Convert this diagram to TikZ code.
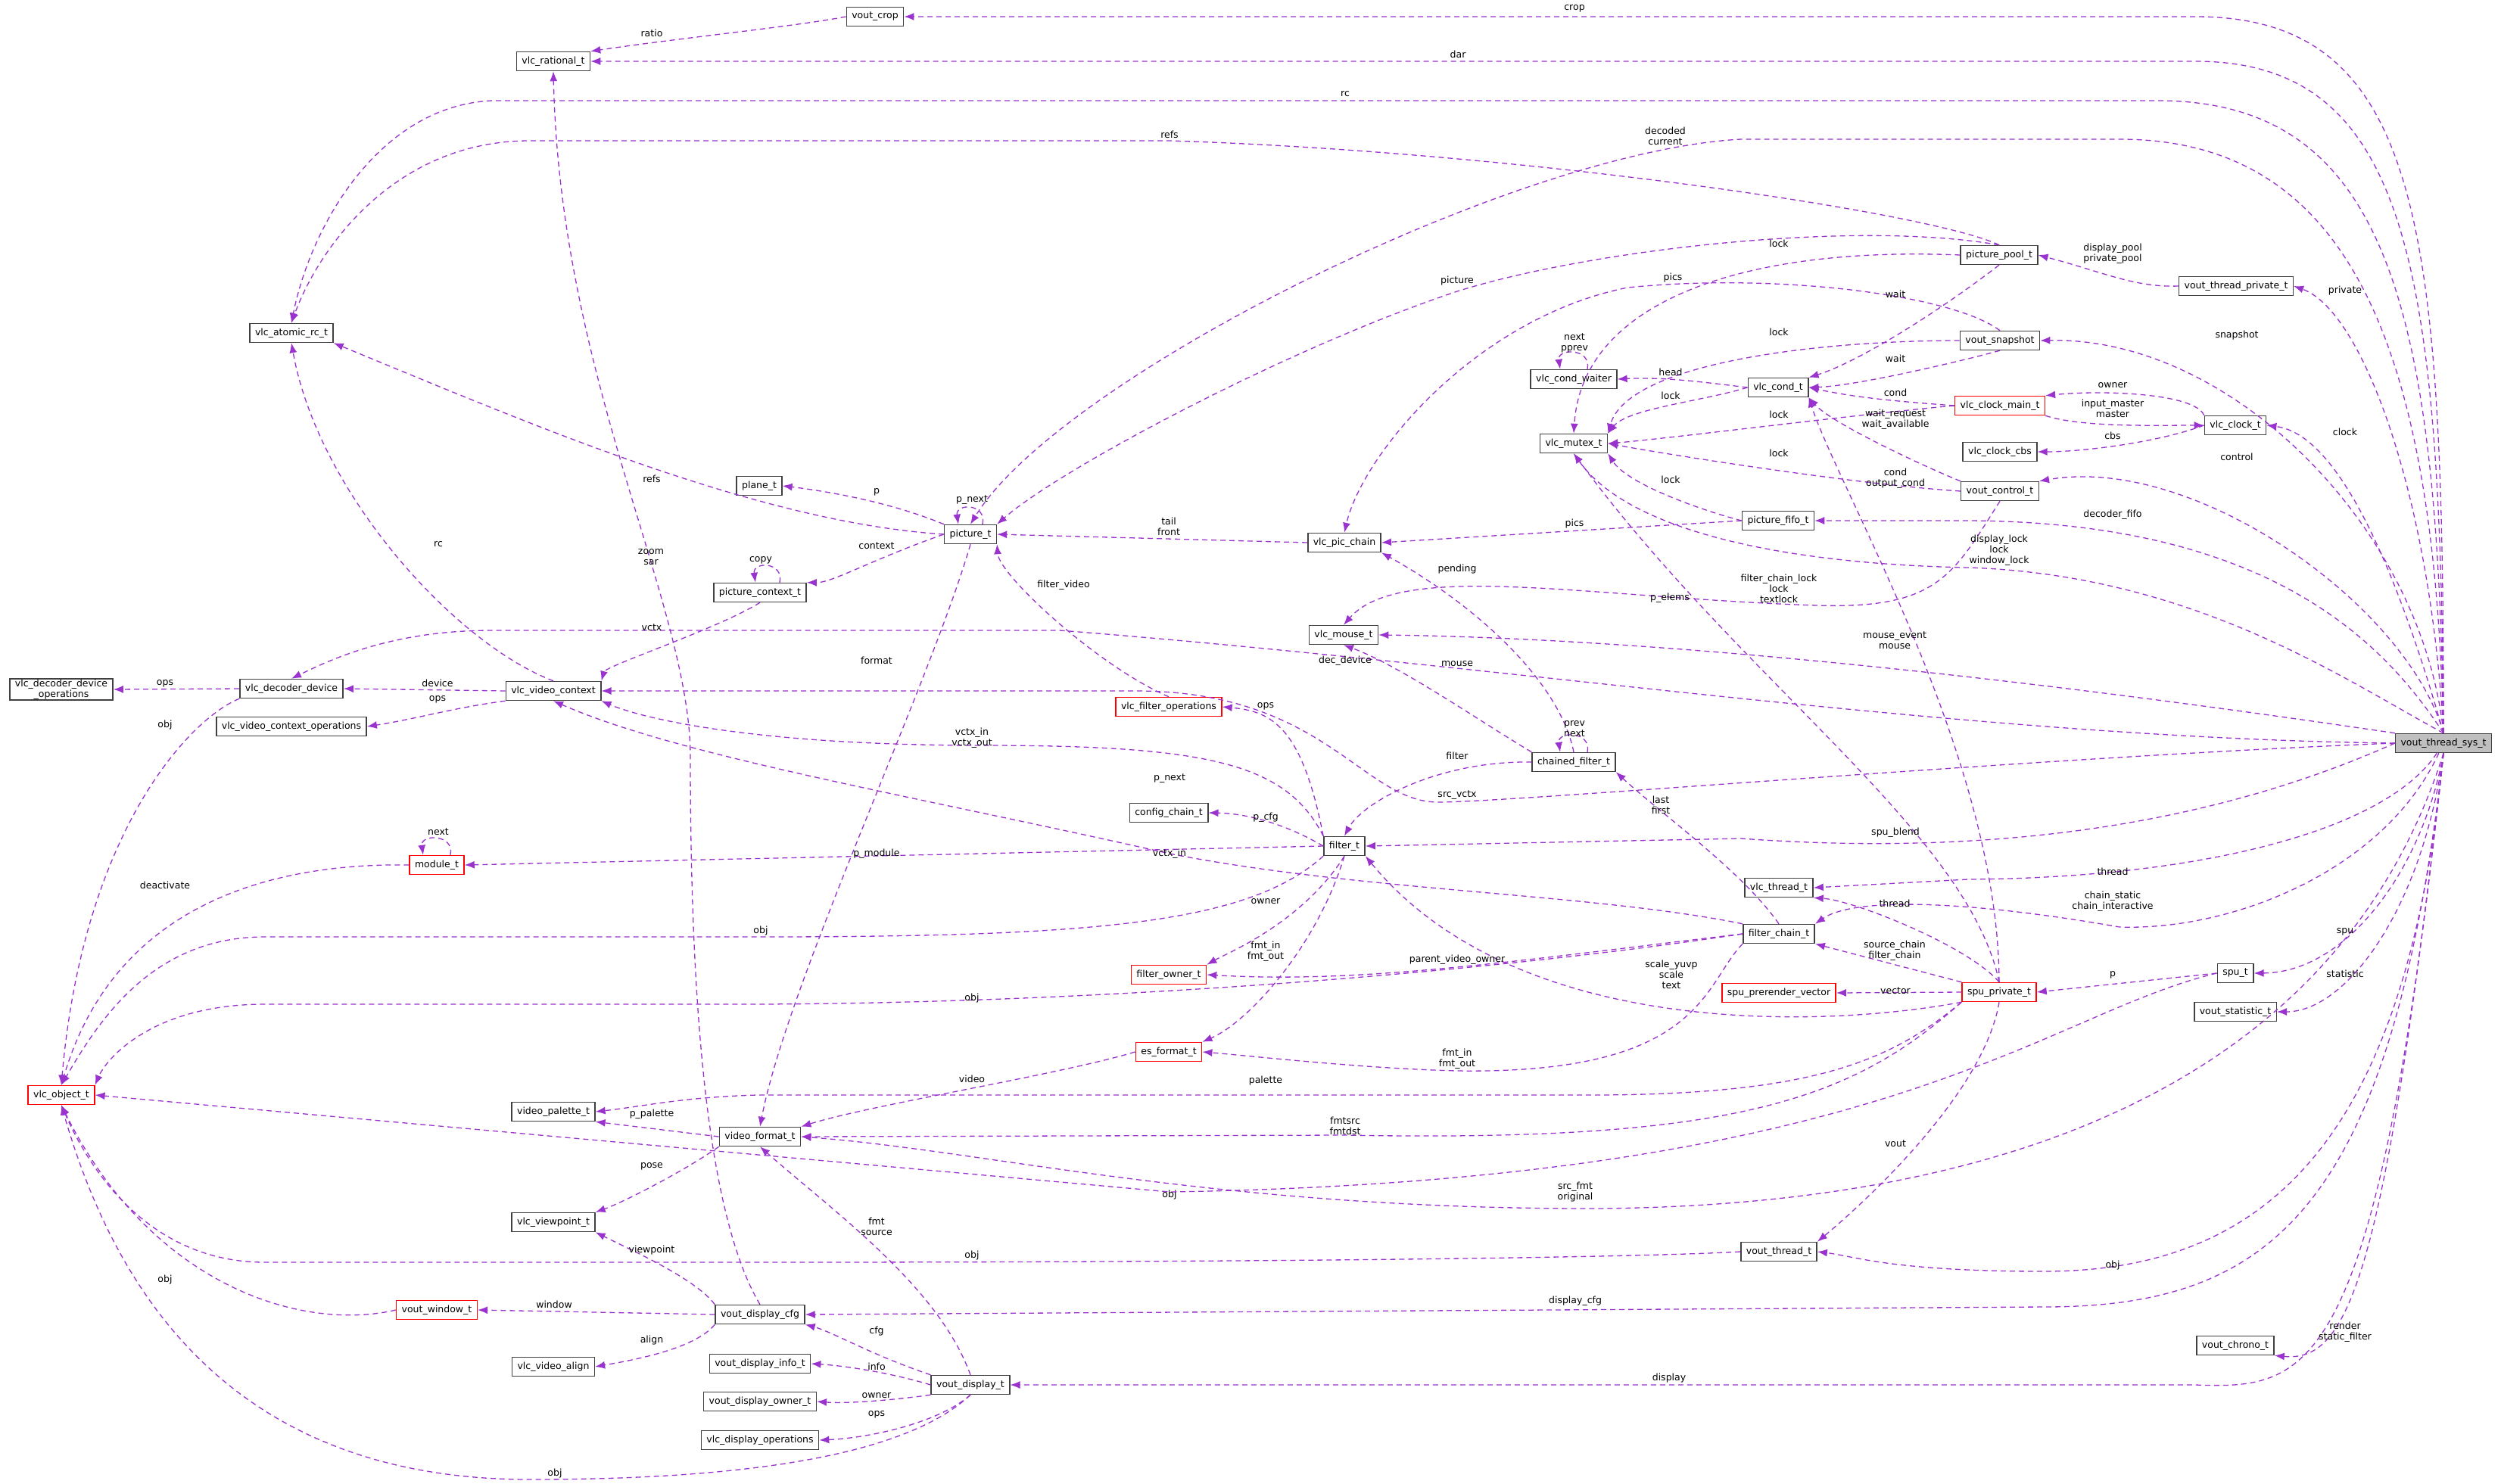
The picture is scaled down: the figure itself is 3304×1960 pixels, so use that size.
\documentclass[tikz,border=0pt]{standalone}
\usepackage{fontspec}
\setmainfont{DejaVu Sans}
\usetikzlibrary{arrows.meta}
\definecolor{edg}{RGB}{154,50,205}
\definecolor{sysfill}{RGB}{191,191,191}
\tikzset{
 box/.style={draw=black!75,line width=1.5pt,fill=white,font=\fontsize{12.5}{14}\selectfont,minimum height=25pt,inner xsep=7pt,inner ysep=2pt,align=center},
 rbox/.style={box,draw=red},
 e/.style={draw=edg,line width=1.3pt,dash pattern=on 7pt off 5pt,-{Latex[length=13pt,width=10pt]}},
 lbl/.style={font=\fontsize{12.5}{14}\selectfont,align=center,inner sep=0pt}
}
\begin{document}
\begin{tikzpicture}[x=1pt,y=-1pt]
\useasboundingbox (0,0) rectangle (3304,1960);
% nodes
\node[box] (crop) at (1156,22) {vout\_crop};
\node[box] (rat) at (731,81) {vlc\_rational\_t};
\node[box] (atom) at (385,440) {vlc\_atomic\_rc\_t};
\node[box] (plane) at (1003,642) {plane\_t};
\node[box] (pctx) at (1004,783) {picture\_context\_t};
\node[box,inner ysep=1pt] (decops) at (81,911) {vlc\_decoder\_device\\\_operations};
\node[box] (dec) at (385,910) {vlc\_decoder\_device};
\node[box] (vctx) at (731,913) {vlc\_video\_context};
\node[box] (vops) at (385,960) {vlc\_video\_context\_operations};
\node[box] (pic) at (1282,706) {picture\_t};
\node[box] (pchain) at (1776,717) {vlc\_pic\_chain};
\node[box] (mouse) at (1775,839) {vlc\_mouse\_t};
\node[rbox] (fops) at (1544,934) {vlc\_filter\_operations};
\node[box] (cw) at (2079,501) {vlc\_cond\_waiter};
\node[box] (mutex) at (2079,586) {vlc\_mutex\_t};
\node[box] (pool) at (2641,337) {picture\_pool\_t};
\node[box] (vtp) at (2954,378) {vout\_thread\_private\_t};
\node[box] (snap) at (2642,450) {vout\_snapshot};
\node[box] (cond) at (2349,512) {vlc\_cond\_t};
\node[rbox] (cmain) at (2642,536) {vlc\_clock\_main\_t};
\node[box] (clk) at (2953,562) {vlc\_clock\_t};
\node[box] (cbs) at (2642,597) {vlc\_clock\_cbs};
\node[box] (ctl) at (2642,649) {vout\_control\_t};
\node[box] (fifo) at (2349,688) {picture\_fifo\_t};
\node[box,fill=sysfill] (S) at (3228,982) {vout\_thread\_sys\_t};
\node[rbox] (mod) at (577,1143) {module\_t};
\node[rbox] (obj) at (81,1447) {vlc\_object\_t};
\node[box] (vpal) at (731,1469) {video\_palette\_t};
\node[box] (vfmt) at (1004,1502) {video\_format\_t};
\node[box] (vvp) at (731,1615) {vlc\_viewpoint\_t};
\node[rbox] (vwin) at (577,1731) {vout\_window\_t};
\node[box] (dcfg) at (1004,1737) {vout\_display\_cfg};
\node[box] (valign) at (731,1806) {vlc\_video\_align};
\node[box] (vinfo) at (1004,1802) {vout\_display\_info\_t};
\node[box] (vown) at (1004,1852) {vout\_display\_owner\_t};
\node[box] (dops) at (1004,1903) {vlc\_display\_operations};
\node[box] (chf) at (2079,1007) {chained\_filter\_t};
\node[box] (ccfg) at (1544,1074) {config\_chain\_t};
\node[box] (filt) at (1776,1118) {filter\_t};
\node[rbox] (fown) at (1544,1288) {filter\_owner\_t};
\node[rbox] (esf) at (1544,1390) {es\_format\_t};
\node[box] (vdisp) at (1282,1830) {vout\_display\_t};
\node[box] (vthr) at (2350,1173) {vlc\_thread\_t};
\node[box] (fchain) at (2350,1234) {filter\_chain\_t};
\node[rbox] (spv) at (2350,1312) {spu\_prerender\_vector};
\node[rbox] (spp) at (2641,1311) {spu\_private\_t};
\node[box] (spu) at (2953,1286) {spu\_t};
\node[box] (stat) at (2953,1337) {vout\_statistic\_t};
\node[box] (vth) at (2350,1654) {vout\_thread\_t};
\node[box] (chrono) at (2953,1778) {vout\_chrono\_t};
% edges from vout_thread_sys_t
\draw[e] (S.north) .. controls (3228,300) and (3200,22) .. (2900,22) -- (crop);
\draw[e] (S.north) .. controls (3224,350) and (3180,81) .. (2900,81) -- (rat);
\draw[e] (S.north) .. controls (3220,400) and (3150,133) .. (2850,133) -- (650,133) .. controls (500,140) and (410,300) .. (atom.north);
\draw[e] (S.north) .. controls (3216,450) and (3100,184) .. (2800,184) -- (2300,184) .. controls (2000,200) and (1400,500) .. (pic.north);
\draw[e] (S.north) .. controls (3210,650) and (3120,410) .. (vtp.east);
\draw[e] (S.north) .. controls (3200,700) and (2950,445) .. (snap.east);
\draw[e] (S.north) .. controls (3180,800) and (3100,575) .. (clk.east);
\draw[e] (S.north) .. controls (3180,800) and (2900,600) .. (ctl.north east);
\draw[e] (S.north) .. controls (3150,850) and (3000,690) .. (2600,688) -- (fifo.east);
\draw[e] (S.north) .. controls (3100,900) and (2900,760) .. (2600,750) .. controls (2350,745) and (2150,700) .. (mutex.south);
\draw[e] (S.north west) .. controls (2900,930) and (2300,845) .. (mouse.east);
\draw[e] (S.west) .. controls (2600,975) and (2000,880) .. (1400,833) -- (650,833) .. controls (520,833) and (440,870) .. (dec.north);
\draw[e] (S.west) .. controls (2700,1000) and (2000,1060) .. (1900,1060) .. controls (1800,1060) and (1750,913) .. (1500,913) -- (vctx.east);
\draw[e] (S.west) .. controls (2900,1100) and (2600,1130) .. (2300,1108) -- (filt.east);
\draw[e] (S) .. controls (3150,1100) and (2900,1160) .. (2600,1162) -- (vthr.east);
\draw[e] (S) .. controls (3150,1150) and (2950,1230) .. (2800,1225) .. controls (2600,1190) and (2450,1185) .. (fchain.north east);
\draw[e] (S.south) .. controls (3200,1150) and (3100,1285) .. (spu.east);
\draw[e] (S.south) .. controls (3200,1200) and (3100,1337) .. (stat.east);
\draw[e] (S.south) .. controls (3100,1400) and (2700,1595) .. (2100,1597) .. controls (1600,1597) and (1300,1520) .. (vfmt.east);
\draw[e] (S.south) .. controls (3180,1500) and (3000,1680) .. (2700,1680) .. controls (2500,1680) and (2450,1660) .. (vth.east);
\draw[e] (S.south) .. controls (3160,1600) and (3000,1727) .. (2700,1727) -- (dcfg.east);
\draw[e] (S.south) .. controls (3150,1700) and (3100,1800) .. (chrono.south east);
\draw[e] (S.south) .. controls (3140,1830) and (3050,1835) .. (2900,1830) -- (vdisp.east);
% other edges
\draw[e] (vtp.west) .. controls (2820,380) and (2780,360) .. (pool.east);
\draw[e] (crop.west) .. controls (1050,35) and (900,50) .. (rat.north east);
\draw[e] (pool.north) .. controls (2550,280) and (2000,200) .. (1545,186) -- (700,186) .. controls (520,186) and (420,330) .. (atom.north);
\draw[e] (pool.south) .. controls (2550,420) and (2450,480) .. (cond.north east);
\draw[e] (pool.west) .. controls (2300,325) and (2090,400) .. (mutex.north);
\draw[e] (pool.north) .. controls (2450,290) and (2100,330) .. (1925,385) .. controls (1700,460) and (1400,620) .. (pic.north east);
\draw[e] (snap.north) .. controls (2580,390) and (2350,360) .. (2150,380) .. controls (1950,420) and (1800,600) .. (pchain.north);
\draw[e] (snap.west) .. controls (2400,450) and (2150,480) .. (mutex.north east);
\draw[e] (snap.south) .. controls (2580,480) and (2450,510) .. (cond.east);
\draw[e] ([xshift=18pt]cw.north) .. controls +(6,-28) and +(-4,-28) .. ([xshift=-18pt]cw.north);
\draw[e] (cond.west) .. controls (2250,505) and (2200,498) .. (cw.east);
\draw[e] (cond.west) .. controls (2250,530) and (2150,540) .. (mutex.north east);
\draw[e] (cmain.west) .. controls (2500,530) and (2450,525) .. (cond.east);
\draw[e] (cmain.west) .. controls (2450,548) and (2200,580) .. (mutex.east);
\draw[e] (cmain.south east) .. controls (2750,565) and (2850,562) .. (clk.west);
\draw[e] (clk.north west) .. controls (2900,520) and (2780,515) .. (cmain.north east);
\draw[e] (clk.west) .. controls (2850,585) and (2750,597) .. (cbs.east);
\draw[e] (ctl.north west) .. controls (2550,620) and (2420,560) .. (cond.south east);
\draw[e] (ctl.west) .. controls (2450,640) and (2200,600) .. (mutex.east);
\draw[e] (fifo.west) .. controls (2250,675) and (2150,640) .. (mutex.south east);
\draw[e] (fifo.west) -- (pchain.east);
\draw[e] (ctl.south) .. controls (2580,760) and (2560,805) .. (2400,800) .. controls (2100,790) and (1850,740) .. (mouse.north);
\draw[e] (pchain.west) -- (pic.east);
\draw[e] ([xshift=16pt]pic.north) .. controls +(6,-28) and +(-4,-28) .. ([xshift=-16pt]pic.north);
\draw[e] (pic.north west) .. controls (1180,665) and (1100,650) .. (plane.east);
\draw[e] (pic.west) .. controls (1150,740) and (1100,770) .. (pctx.north east);
\draw[e] (pic.west) .. controls (1000,690) and (700,560) .. (atom.south east);
\draw[e] (pic.south) .. controls (1230,900) and (1040,1300) .. (vfmt.north);
\draw[e] ([xshift=26pt]pctx.north) .. controls +(6,-28) and +(-4,-28) .. ([xshift=-6pt]pctx.north);
\draw[e] (pctx.south) .. controls (950,830) and (800,880) .. (vctx.north east);
\draw[e] (vctx.north) .. controls (600,850) and (420,650) .. (atom.south);
\draw[e] (vctx.west) -- (dec.east);
\draw[e] (vctx.south west) .. controls (600,935) and (550,950) .. (vops.east);
\draw[e] (dec.west) -- (decops.east);
\draw[e] (dec.south west) .. controls (250,950) and (110,1100) .. (obj.north);
\draw[e] (fops.north) .. controls (1450,880) and (1320,760) .. (pic.south east);
\draw[e] (filt.north west) .. controls (1720,960) and (1680,940) .. (fops.east);
\draw[e] (filt.west) .. controls (1700,1090) and (1650,1075) .. (ccfg.east);
\draw[e] (filt.north west) .. controls (1700,1010) and (1600,985) .. (1300,985) .. controls (1000,985) and (850,950) .. (vctx.south east);
\draw[e] (fchain.north west) .. controls (2100,1180) and (1800,1178) .. (1545,1128) .. controls (1200,1050) and (900,1000) .. (vctx.south);
\draw[e] (filt.west) -- (mod.east);
\draw[e] ([xshift=18pt]mod.north) .. controls +(6,-28) and +(-4,-28) .. ([xshift=-18pt]mod.north);
\draw[e] (mod.west) .. controls (350,1140) and (150,1200) .. (obj.north);
\draw[e] (filt.south west) .. controls (1650,1220) and (1450,1238) .. (1000,1238) -- (350,1238) .. controls (200,1238) and (130,1350) .. (obj.north);
\draw[e] (filt.south) .. controls (1720,1220) and (1620,1260) .. (fown.north east);
\draw[e] (filt.south) .. controls (1740,1250) and (1650,1350) .. (esf.north east);
\draw[e] (chf.west) .. controls (1900,1005) and (1800,1060) .. (filt.north);
\draw[e] (chf.north west) .. controls (1950,950) and (1850,880) .. (mouse.south);
\draw[e] (chf.north) .. controls (2060,900) and (1950,800) .. (pchain.south east);
\draw[e] ([xshift=18pt]chf.north) .. controls +(6,-28) and +(-4,-28) .. ([xshift=-18pt]chf.north);
\draw[e] (fchain.north) .. controls (2300,1150) and (2200,1080) .. (chf.south east);
\draw[e] (fchain.west) .. controls (2000,1270) and (1800,1300) .. (fown.east);
\draw[e] (fchain.west) .. controls (2000,1280) and (1500,1325) .. (1000,1327) -- (350,1327) .. controls (200,1327) and (140,1400) .. (obj.north east);
\draw[e] (fchain.south west) .. controls (2250,1300) and (2250,1420) .. (1925,1415) .. controls (1800,1412) and (1650,1395) .. (esf.east);
\draw[e] (esf.west) .. controls (1400,1420) and (1150,1460) .. (vfmt.north east);
\draw[e] (spp.south west) .. controls (2500,1400) and (2400,1447) .. (2100,1447) -- (1000,1447) .. controls (900,1450) and (850,1462) .. (vpal.east);
\draw[e] (vfmt.west) -- (vpal.south east);
\draw[e] (vfmt.south west) .. controls (900,1550) and (820,1590) .. (vvp.north east);
\draw[e] (spp.south west) .. controls (2450,1450) and (2300,1510) .. (1777,1500) -- (vfmt.east);
\draw[e] (spu.west) .. controls (2700,1340) and (2500,1560) .. (1545,1575) -- (obj.east);
\draw[e] (spp.south) .. controls (2620,1450) and (2450,1600) .. (vth.north east);
\draw[e] (spp.north west) -- (fchain.south east);
\draw[e] (spp.north) .. controls (2600,1250) and (2450,1190) .. (vthr.south east);
\draw[e] (spp.west) -- (spv.east);
\draw[e] (spp.south west) .. controls (2400,1360) and (2000,1370) .. (filt.south east);
\draw[e] (spp.north) .. controls (2600,1100) and (2300,900) .. (mutex.south);
\draw[e] (spp.north) .. controls (2640,1000) and (2430,650) .. (cond.south east);
\draw[e] (spu.west) -- (spp.east);
\draw[e] (vth.west) .. controls (2200,1660) and (1800,1668) .. (1000,1668) -- (350,1668) .. controls (200,1668) and (120,1550) .. (obj.south);
\draw[e] (dcfg.west) -- (vwin.east);
\draw[e] (dcfg.north west) .. controls (920,1690) and (830,1650) .. (vvp.south east);
\draw[e] (dcfg.south west) .. controls (920,1780) and (850,1795) .. (valign.east);
\draw[e] (dcfg.north) .. controls (930,1600) and (912,1300) .. (912,1000) .. controls (912,800) and (740,500) .. (rat.south);
\draw[e] (vwin.west) .. controls (400,1760) and (200,1700) .. (obj.south);
\draw[e] (vdisp.north west) .. controls (1150,1790) and (1100,1760) .. (dcfg.south east);
\draw[e] (vdisp.west) .. controls (1180,1815) and (1120,1805) .. (vinfo.east);
\draw[e] (vdisp.south west) .. controls (1180,1850) and (1120,1855) .. (vown.east);
\draw[e] (vdisp.south) .. controls (1240,1880) and (1150,1900) .. (dops.east);
\draw[e] (vdisp.north) .. controls (1240,1700) and (1100,1600) .. (vfmt.south);
\draw[e] (vdisp.south) .. controls (1200,1920) and (1000,1955) .. (700,1955) .. controls (300,1955) and (150,1700) .. (obj.south);
% labels
\node[lbl] (l1) at (2080,11) {crop};
\node[lbl] (l2) at (1926,72) {dar};
\node[lbl] (l3) at (1777,124) {rc};
\node[lbl] (l4) at (2200,180) {decoded\\current};
\node[lbl] (l5) at (861,44) {ratio};
\node[lbl] (l6) at (1545,178) {refs};
\node[lbl] (l7) at (861,633) {refs};
\node[lbl] (l8) at (579,719) {rc};
\node[lbl] (l9) at (860,736) {zoom\\sar};
\node[lbl] (l10) at (1005,740) {copy};
\node[lbl] (l11) at (861,829) {vctx};
\node[lbl] (l12) at (218,903) {ops};
\node[lbl] (l13) at (578,903) {device};
\node[lbl] (l14) at (578,924) {ops};
\node[lbl] (l15) at (218,958) {obj};
\node[lbl] (l16) at (1925,371) {picture};
\node[lbl] (l17) at (1158,650) {p};
\node[lbl] (l18) at (1284,661) {p\_next};
\node[lbl] (l19) at (1158,721) {context};
\node[lbl] (l20) at (1544,696) {tail\\front};
\node[lbl] (l21) at (2080,692) {pics};
\node[lbl] (l22) at (1925,752) {pending};
\node[lbl] (l23) at (1158,873) {format};
\node[lbl] (l24) at (1405,773) {filter\_video};
\node[lbl] (l25) at (1777,873) {dec\_device};
\node[lbl] (l26) at (1925,877) {mouse};
\node[lbl] (l27) at (1672,933) {ops};
\node[lbl] (l28) at (1284,975) {vctx\_in\\vctx\_out};
\node[lbl] (l29) at (2080,963) {prev\\next};
\node[lbl] (l30) at (2080,453) {next\\pprev};
\node[lbl] (l31) at (2791,335) {display\_pool\\private\_pool};
\node[lbl] (l32) at (3098,384) {private};
\node[lbl] (l33) at (2350,322) {lock};
\node[lbl] (l34) at (2210,367) {pics};
\node[lbl] (l35) at (2504,389) {wait};
\node[lbl] (l36) at (2350,439) {lock};
\node[lbl] (l37) at (2955,443) {snapshot};
\node[lbl] (l38) at (2504,474) {wait};
\node[lbl] (l39) at (2791,509) {owner};
\node[lbl] (l40) at (2504,519) {cond};
\node[lbl] (l41) at (2791,540) {input\_master\\master};
\node[lbl] (l42) at (2350,548) {lock};
\node[lbl] (l43) at (2504,554) {wait\_request\\wait\_available};
\node[lbl] (l44) at (3098,571) {clock};
\node[lbl] (l45) at (2791,576) {cbs};
\node[lbl] (l46) at (2350,599) {lock};
\node[lbl] (l47) at (2955,604) {control};
\node[lbl] (l48) at (2504,632) {cond\\output\_cond};
\node[lbl] (l49) at (2791,680) {decoder\_fifo};
\node[lbl] (l50) at (2641,727) {display\_lock\\lock\\window\_lock};
\node[lbl] (l51) at (2350,778) {filter\_chain\_lock\\lock\\textlock};
\node[lbl] (l52) at (2206,790) {p\_elems};
\node[lbl] (l53) at (2503,846) {mouse\_event\\mouse};
\node[lbl] (l54) at (2207,492) {head};
\node[lbl] (l55) at (2207,523) {lock};
\node[lbl] (l56) at (2207,634) {lock};
\node[lbl] (l57) at (579,1099) {next};
\node[lbl] (l58) at (218,1170) {deactivate};
\node[lbl] (l59) at (1005,1230) {obj};
\node[lbl] (l60) at (861,1472) {p\_palette};
\node[lbl] (l61) at (861,1541) {pose};
\node[lbl] (l62) at (861,1652) {viewpoint};
\node[lbl] (l63) at (218,1691) {obj};
\node[lbl] (l64) at (732,1724) {window};
\node[lbl] (l65) at (861,1771) {align};
\node[lbl] (l66) at (733,1947) {obj};
\node[lbl] (l67) at (1925,999) {filter};
\node[lbl] (l68) at (1545,1029) {p\_next};
\node[lbl] (l69) at (1925,1051) {src\_vctx};
\node[lbl] (l70) at (1672,1080) {p\_cfg};
\node[lbl] (l71) at (1158,1128) {p\_module};
\node[lbl] (l72) at (1545,1128) {vctx\_in};
\node[lbl] (l73) at (1672,1191) {owner};
\node[lbl] (l74) at (1672,1257) {fmt\_in\\fmt\_out};
\node[lbl] (l75) at (1925,1268) {parent\_video\_owner};
\node[lbl] (l76) at (1284,1319) {obj};
\node[lbl] (l77) at (1925,1399) {fmt\_in\\fmt\_out};
\node[lbl] (l78) at (1284,1426) {video};
\node[lbl] (l79) at (1672,1428) {palette};
\node[lbl] (l80) at (1777,1488) {fmtsrc\\fmtdst};
\node[lbl] (l81) at (1545,1579) {obj};
\node[lbl] (l82) at (2081,1575) {src\_fmt\\original};
\node[lbl] (l83) at (1158,1621) {fmt\\source};
\node[lbl] (l84) at (1284,1659) {obj};
\node[lbl] (l85) at (2081,1719) {display\_cfg};
\node[lbl] (l86) at (1158,1759) {cfg};
\node[lbl] (l87) at (1158,1806) {info};
\node[lbl] (l88) at (1158,1844) {owner};
\node[lbl] (l89) at (1158,1869) {ops};
\node[lbl] (l90) at (2194,1064) {last\\first};
\node[lbl] (l91) at (2504,1100) {spu\_blend};
\node[lbl] (l92) at (2791,1152) {thread};
\node[lbl] (l93) at (2791,1191) {chain\_static\\chain\_interactive};
\node[lbl] (l94) at (2503,1194) {thread};
\node[lbl] (l95) at (3098,1231) {spu};
\node[lbl] (l96) at (2503,1256) {source\_chain\\filter\_chain};
\node[lbl] (l97) at (2208,1288) {scale\_yuvp\\scale\\text};
\node[lbl] (l98) at (2791,1288) {p};
\node[lbl] (l99) at (3098,1287) {statistic};
\node[lbl] (l100) at (2504,1309) {vector};
\node[lbl] (l101) at (2504,1511) {vout};
\node[lbl] (l102) at (2791,1672) {obj};
\node[lbl] (l103) at (3098,1760) {render\\static\_filter};
\node[lbl] (l104) at (2205,1821) {display};
\end{tikzpicture}
\end{document}
